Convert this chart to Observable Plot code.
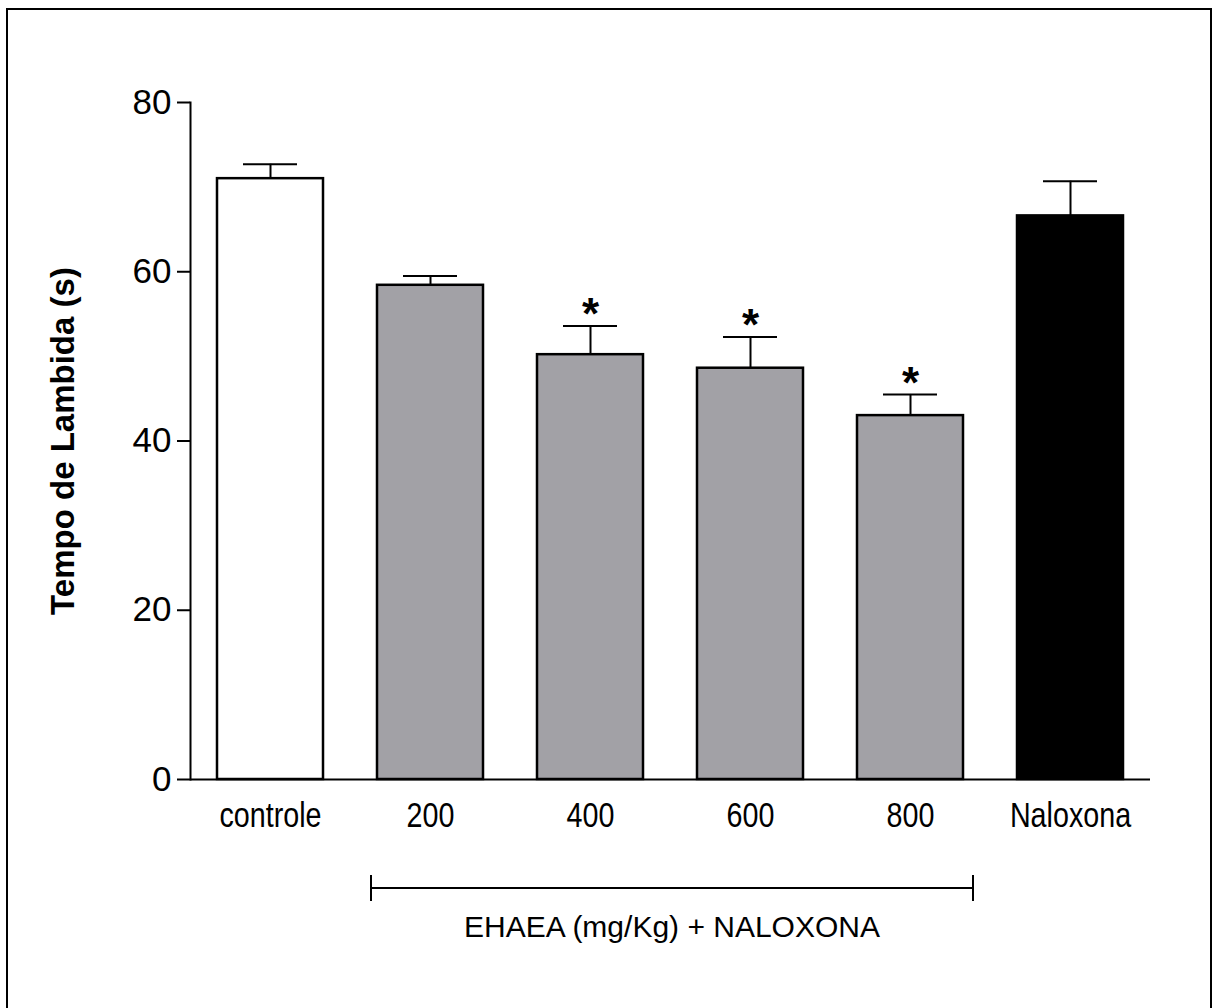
<!DOCTYPE html>
<html>
<head>
<meta charset="utf-8">
<script src="https://cdn.jsdelivr.net/npm/d3@7"></script>
<script src="https://cdn.jsdelivr.net/npm/@observablehq/plot@0.6"></script>
<style>
  html, body { margin: 0; padding: 0; background: #fff; overflow: hidden; }
  #frame { position: absolute; left: 6px; top: 8px; width: 1202px; height: 1010px; border: 2px solid #000; }
  #chart { position: absolute; left: 0; top: 0; }
</style>
</head>
<body>
<div id="frame"></div>
<div id="chart"></div>
<script>
// ---- data ----
const groups = ["controle", "200", "400", "600", "800", "Naloxona"];
const kinds = ["controle", "EHAEA", "EHAEA", "EHAEA", "EHAEA", "Naloxona"];
const means = [71.0, 58.4, 50.2, 48.6, 43.0, 66.6];
const sems = [1.7, 1.1, 3.4, 3.7, 2.5, 4.1];
const significant = [false, false, true, true, true, false];
const yTicks = [0, 20, 40, 60, 80];
const yLabel = "Tempo de Lambida (s)";
const bracketLabel = "EHAEA (mg/Kg) + NALOXONA";
const bracketFrom = "200";
const bracketTo = "800";

const kindDomain = ["controle", "EHAEA", "Naloxona"];
const kindColors = ["#ffffff", "#a2a1a6", "#000000"];

const data = groups.map((g, i) => ({
  group: g, kind: kinds[i], mean: means[i], upper: means[i] + sems[i], sig: significant[i]
}));

const sans = "'Liberation Sans', Arial, Helvetica, sans-serif";

const chart = Plot.plot({
  width: 1212,
  height: 1008,
  marginLeft: 190,
  marginRight: 62,
  marginTop: 102,
  marginBottom: 229,
  style: { fontFamily: sans, background: "transparent", color: "#000" },
  x: { domain: groups, paddingInner: 0.3375, paddingOuter: 0.16875, label: null },
  y: { domain: [0, 80], label: null },
  color: { domain: kindDomain, range: kindColors },
  marks: [
    Plot.barY(data, { x: "group", y: "mean", fill: "kind", stroke: "#000", strokeWidth: 2.5 }),
    Plot.ruleX(data, { x: "group", y1: "mean", y2: "upper", stroke: "#000", strokeWidth: 2 }),
    Plot.tickY(data, { x: "group", y: "upper", stroke: "#000", strokeWidth: 2, insetLeft: 26, insetRight: 26 }),
    Plot.text(data.filter(d => d.sig), { x: "group", y: "upper", text: () => "*", dy: -11, fontSize: 44, fontWeight: "bold", fill: "#000" }),
    Plot.axisY({ ticks: yTicks, tickSize: 13, tickPadding: 6, fontSize: 35, strokeWidth: 2, tickFormat: d => String(d), label: null }),
    Plot.axisX({ tickSize: 0, tickPadding: 23, fontSize: 35, label: null, ariaLabel: "x-axis" }),
    Plot.frame({ anchor: "left", strokeWidth: 2 }),
    Plot.ruleY([0], { stroke: "#000", strokeWidth: 2 }),
    Plot.text([yLabel], { frameAnchor: "left", textAnchor: "middle", rotate: -90, dx: -127, fontSize: 33, fontWeight: "bold", text: d => d, fill: "#000" })
  ]
});

document.getElementById("chart").appendChild(chart);

// condensed x tick labels (Arial Narrow look)
d3.select(chart).selectAll("g[aria-label='x-axis'] text, g[aria-label='x-axis tick label'] text").each(function () {
  const t = this.getAttribute("transform") || "";
  this.setAttribute("transform", t + " scale(0.82,1)");
});

// bracket under the EHAEA groups, positioned from Plot's x scale
const xs = chart.scale("x");
const bw = xs.bandwidth;
const left = xs.apply(bracketFrom) - 6;
const right = xs.apply(bracketTo) + bw + 10;
const by = 888;
const svg = d3.select(chart);
const g = svg.append("g").attr("stroke", "#000").attr("stroke-width", 2);
g.append("line").attr("x1", left).attr("x2", right).attr("y1", by).attr("y2", by);
g.append("line").attr("x1", left).attr("x2", left).attr("y1", by - 13).attr("y2", by + 13);
g.append("line").attr("x1", right).attr("x2", right).attr("y1", by - 13).attr("y2", by + 13);
svg.append("text")
  .attr("x", (left + right) / 2)
  .attr("y", 937)
  .attr("text-anchor", "middle")
  .attr("font-family", sans)
  .attr("font-size", 30)
  .attr("fill", "#000")
  .text(bracketLabel);
</script>
</body>
</html>
